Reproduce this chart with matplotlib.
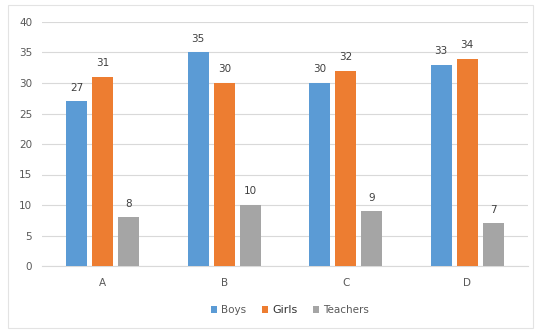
import matplotlib
matplotlib.use("Agg")
import matplotlib.pyplot as plt
from matplotlib.patches import Rectangle
import numpy as np

categories = ["A", "B", "C", "D"]
boys = [27, 35, 30, 33]
girls = [31, 30, 32, 34]
teachers = [8, 10, 9, 7]
series_names = ["Boys", "Girls", "Teachers"]
colors = ["#5B9BD5", "#ED7D31", "#A5A5A5"]

fig = plt.figure(figsize=(5.36, 3.30), dpi=100)
fig.patches.append(Rectangle((8/536, 1-328/330), 525/536, 323/330, transform=fig.transFigure,
                             facecolor="white", edgecolor="#E3E3E3", linewidth=0.8, zorder=-1))
ax = fig.add_axes([42/536, 1-266/330, 486/536, 244/330])
ax.set_facecolor("none")
x = np.arange(len(categories))
w = 0.173
step = 0.214
for i, (vals, c, n) in enumerate(zip([boys, girls, teachers], colors, series_names)):
    pos = x + (i - 1) * step
    ax.bar(pos, vals, width=w, color=c, label=n, zorder=3)
    for p, v in zip(pos, vals):
        ax.text(p, v + 1.4, str(v), ha="center", va="bottom", fontsize=7.5, color="#404040")

ax.set_xlim(-0.5, 3.5)
ax.set_ylim(0, 40)
ax.set_yticks(range(0, 41, 5))
ax.set_xticks(x)
ax.set_xticklabels(categories)
ax.grid(axis="y", color="#D9D9D9", linewidth=0.8, zorder=0)
for s in ["top", "right", "left"]:
    ax.spines[s].set_visible(False)
ax.spines["bottom"].set_color("#D9D9D9")
ax.tick_params(axis="both", length=0, labelsize=7.5, colors="#595959")
ax.tick_params(axis="y", pad=7)
ax.tick_params(axis="x", pad=9)
leg = fig.legend(loc="center", bbox_to_anchor=(290/536, 1-310/330), ncol=3, frameon=False,
                 fontsize=7.5, handlelength=0.6, handleheight=0.6, handletextpad=0.4, columnspacing=1.5)
for t in leg.get_texts():
    t.set_color("#595959")
leg.get_texts()[1].set_color("#333333")
leg.get_texts()[1].set_fontsize(8)
fig.savefig("out.png", dpi=100)
